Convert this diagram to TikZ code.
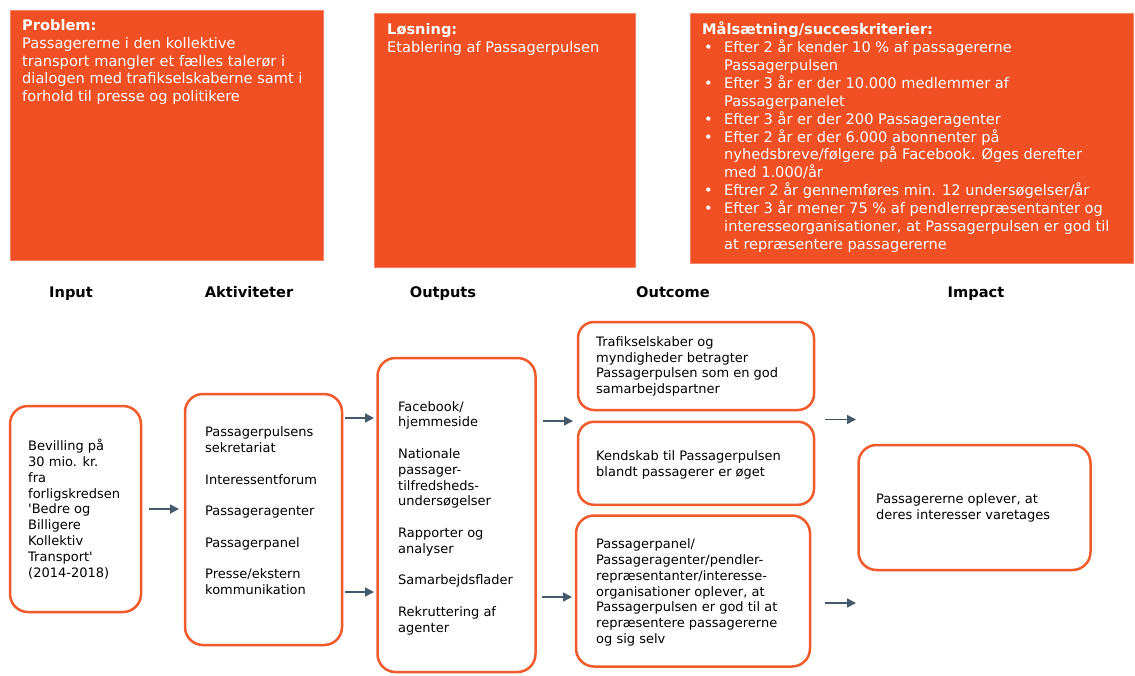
\documentclass[tikz,border=0pt]{standalone}
\usepackage{fontspec}
\setmainfont{DejaVu Sans}
\usetikzlibrary{arrows.meta}
\definecolor{orfill}{HTML}{F05023}
\definecolor{orline}{HTML}{F15A2B}
\definecolor{arrcol}{HTML}{44596B}
\newcommand{\bst}{\rule{0pt}{11pt}}
\newcommand{\tst}{\rule{0pt}{12.5pt}}
\newcommand{\bul}{\makebox[22pt][l]{\hspace{2pt}•}}
\newcommand{\ind}{\hspace*{22pt}}
\begin{document}
\begin{tikzpicture}[x=1pt,y=-1pt,
  topbox/.style={fill=orfill, draw=orfill!70!white, line width=0.6pt, inner sep=0pt},
  toptext/.style={anchor=north west, inner sep=0pt, align=left, text=white,
    font=\fontsize{14.6}{17.9}\selectfont},
  rbox/.style={draw=orline, line width=2.5pt, rounded corners=18pt, fill=white, inner sep=0pt},
  btext/.style={anchor=north west, inner sep=0pt, align=left, text=black,
    font=\fontsize{13}{15.8}\selectfont},
  hdr/.style={font=\fontsize{14.6}{17}\selectfont\bfseries, inner sep=0pt, anchor=base},
  arw/.style={draw=arrcol, line width=1.5pt, -{Triangle[length=9pt,width=9pt]}}
]
\useasboundingbox (0,0) rectangle (1135,675);

% top boxes
\node[topbox, minimum width=313pt, minimum height=250pt] (prob) at (166.5,135) {};
\node[topbox, minimum width=261pt, minimum height=254pt] (los) at (504.5,140) {};
\node[topbox, minimum width=443pt, minimum height=250pt] (maal) at (911.5,138) {};

\node[toptext] (probT) at (22,17.5) {\tst\textbf{Problem:}\\
Passagererne i den kollektive\\
transport mangler et fælles talerør i\\
dialogen med trafikselskaberne samt i\\
forhold til presse og politikere};

\node[toptext] (losT) at (387,21.5) {\tst\textbf{Løsning:}\\
Etablering af Passagerpulsen};

\node[toptext] (maalT) at (702,21.5) {\tst\textbf{Målsætning/succeskriterier:}\\
\bul Efter 2 år kender 10 \% af passagererne\\
\ind Passagerpulsen\\
\bul Efter 3 år er der 10.000 medlemmer af\\
\ind Passagerpanelet\\
\bul Efter 3 år er der 200 Passageragenter\\
\bul Efter 2 år er der 6.000 abonnenter på\\
\ind nyhedsbreve/følgere på Facebook. Øges derefter\\
\ind med 1.000/år\\
\bul Eftrer 2 år gennemføres min. 12 undersøgelser/år\\
\bul Efter 3 år mener 75 \% af pendlerrepræsentanter og\\
\ind interesseorganisationer, at Passagerpulsen er god til\\
\ind at repræsentere passagererne};

% headers
\node[hdr] (hIn) at (71,297) {Input};
\node[hdr] (hAk) at (249,297) {Aktiviteter};
\node[hdr] (hOu) at (443,297) {Outputs};
\node[hdr] (hOc) at (673,297) {Outcome};
\node[hdr] (hIm) at (976,297) {Impact};

% bottom boxes
\node[rbox, minimum width=131pt, minimum height=206pt] (inp) at (75.5,509) {};
\node[rbox, minimum width=157pt, minimum height=251pt] (akt) at (263.5,519.5) {};
\node[rbox, minimum width=158pt, minimum height=314pt] (outp) at (456.5,515) {};
\node[rbox, minimum width=236pt, minimum height=88pt, rounded corners=16pt] (oc1) at (696,366) {};
\node[rbox, minimum width=236pt, minimum height=83pt, rounded corners=16pt] (oc2) at (696,463.3) {};
\node[rbox, minimum width=234pt, minimum height=151pt] (oc3) at (693,591) {};
\node[rbox, minimum width=232pt, minimum height=125pt] (imp) at (974.5,507.5) {};

% bottom texts
\node[btext] (inpT) at (28,439) {\bst Bevilling på\\30 mio. kr.\\fra\\forligskredsen\\\textquotesingle Bedre og\\Billigere\\Kollektiv\\Transport\textquotesingle\\(2014-2018)};
\node[btext] (aktT) at (205,425.5) {\bst Passagerpulsens\\sekretariat\\[15.8pt]
Interessentforum\\[15.8pt]
Passageragenter\\[15.8pt]
Passagerpanel\\[15.8pt]
Presse/ekstern\\kommunikation};
\node[btext] (outT) at (398,399.8) {\bst Facebook/\\hjemmeside\\[15.8pt]
Nationale\\passager-\\tilfredsheds-\\undersøgelser\\[15.8pt]
Rapporter og\\analyser\\[15.8pt]
Samarbejdsflader\\[15.8pt]
Rekruttering af\\agenter};
\node[btext] (oc1T) at (596,335) {\bst Trafikselskaber og\\myndigheder betragter\\Passagerpulsen som en god\\samarbejdspartner};
\node[btext] (oc2T) at (596,449.2) {\bst Kendskab til Passagerpulsen\\blandt passagerer er øget};
\node[btext] (oc3T) at (596,537.5) {\bst Passagerpanel/\\Passageragenter/pendler-\\repræsentanter/interesse-\\organisationer oplever, at\\Passagerpulsen er god til at\\repræsentere passagererne\\og sig selv};
\node[btext] (impT) at (876,492.5) {\bst Passagererne oplever, at\\deres interesser varetages};

% arrows
\coordinate (a1s) at (149,509);   \coordinate (a1e) at (179,509);
\coordinate (a2s) at (345,418);   \coordinate (a2e) at (374,418);
\coordinate (a3s) at (345,592);   \coordinate (a3e) at (374,592);
\coordinate (a4s) at (543,421);   \coordinate (a4e) at (573,421);
\coordinate (a5s) at (542,597);   \coordinate (a5e) at (572,597);
\coordinate (a6s) at (825,419.5); \coordinate (a6e) at (856,419.5);
\coordinate (a7s) at (825,603);   \coordinate (a7e) at (856,603);
\draw[arw] (a1s) -- (a1e);
\draw[arw] (a2s) -- (a2e);
\draw[arw] (a3s) -- (a3e);
\draw[arw] (a4s) -- (a4e);
\draw[arw] (a5s) -- (a5e);
\draw[arw] (a6s) -- (a6e);
\draw[arw] (a7s) -- (a7e);
\end{tikzpicture}
\end{document}
